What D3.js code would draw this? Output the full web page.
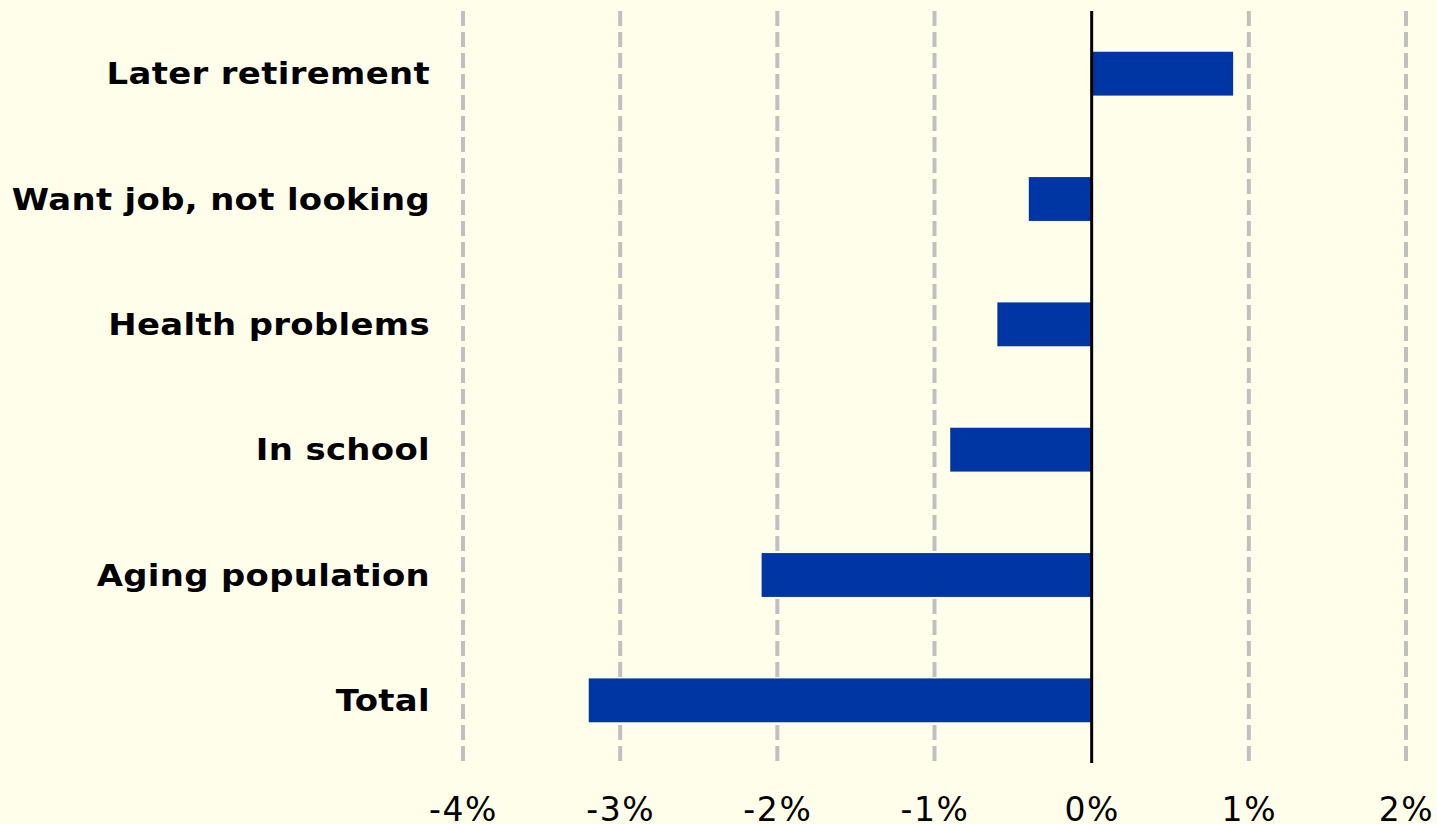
<!DOCTYPE html>
<meta charset="utf-8">
<script src="https://d3js.org/d3.v7.min.js"></script>
<style>
  body { margin: 0; background-color: #fffeeb; }
  .cat { font: bold 30px "DejaVu Sans", Verdana, sans-serif; fill: #000; letter-spacing: 0.3px; }
  .tick text { font: 33px "DejaVu Sans", Verdana, sans-serif; fill: #000; letter-spacing: 1.6px; }
</style>
<body>
<div id="chart"></div>
<script>

  var categories = ["Later retirement", "Want job, not looking", "Health problems", "In school", "Aging population", "Total"];
  var values = [0.9, -0.4, -0.6, -0.9, -2.1, -3.2];
  var ticks = [-4, -3, -2, -1, 0, 1, 2];

  var width = 1437, height = 824;

  var svg = d3.select("#chart")
    .append("svg")
      .attr("width", width)
      .attr("height", height);

  var x = d3.scaleLinear()
    .domain([-4, 2])
    .range([463, 1406]);

  var y = d3.scaleBand()
    .domain(categories)
    .range([11, 763])
    .paddingInner(0.65)
    .paddingOuter(0.325);

  // dashed grid
  svg.append("g")
    .selectAll("line")
    .data(ticks.filter(function(d) { return d != 0; }))
    .enter()
    .append("line")
      .attr("x1", function(d) { return x(d); })
      .attr("x2", function(d) { return x(d); })
      .attr("y1", 11)
      .attr("y2", 763)
      .style("stroke", "#c0c0c0")
      .style("stroke-width", 4)
      .style("stroke-dasharray", "15,6");

  svg.append("g")
    .selectAll("rect")
    .data(values)
    .enter()
    .append("rect")
      .attr("x", function(d) { return x(Math.min(0, d)); })
      .attr("width", function(d) { return Math.abs(x(d) - x(0)); })
      .attr("y", function(d, i) { return y(categories[i]); })
      .attr("height", y.bandwidth())
      .style("fill", "#0036a3");

  // zero line
  svg.append("line")
    .attr("x1", x(0)).attr("x2", x(0))
    .attr("y1", 11).attr("y2", 763)
    .style("stroke", "#000")
    .style("stroke-width", 3);

  // category labels, stretched a bit to match the wide bold face
  svg.append("g")
    .selectAll("text")
    .data(categories)
    .enter()
    .append("text")
      .attr("class", "cat")
      .attr("transform", function(d) {
        return "translate(430," + (y(d) + y.bandwidth() / 2) + ") scale(1.13,1)";
      })
      .attr("dy", "0.36em")
      .attr("text-anchor", "end")
      .text(function(d) { return d; });

  var xAxis = svg.append("g")
    .attr("transform", "translate(0,763)")
    .call(d3.axisBottom(x)
      .tickValues(ticks)
      .tickSize(0)
      .tickPadding(35)
      .tickFormat(function(d) { return d + "%"; }));
  xAxis.select(".domain").remove();

</script>
</body>
